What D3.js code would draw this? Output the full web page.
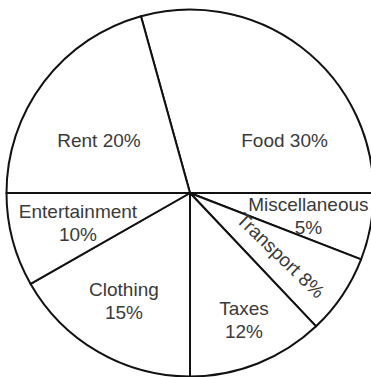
<!DOCTYPE html>
<html>
<head>
<meta charset="utf-8">
<script src="https://cdn.jsdelivr.net/npm/d3@7"></script>
<style>
body { margin: 0; background: #fff; }
</style>
</head>
<body>
<script>
const categories = ["Food", "Miscellaneous", "Transport", "Taxes", "Clothing", "Entertainment", "Rent"]
const percents = [30, 5, 8, 12, 15, 10, 20]
// slice sizes as they are actually drawn in the picture (degrees) -- not exactly the labelled %
const drawnDegrees = [105.5, 21.2, 25.4, 43.4, 60.3, 29.7, 74.5]

const width = 371
const height = 377
const cx = 190, cy = 193, radius = 183.5
const startDeg = -15.5
const lineGap = 23
// label placement: [angle deg, distance from centre, two lines?, rotation deg]
const labelAt = [
  [60.9, 108.2, false, 0],
  [100.8, 120.5, true, 0],
  [124.5, 110, false, 44],
  [156.9, 137.5, true, 0],
  [211.4, 126.8, true, 0],
  [255.3, 115.8, true, 0],
  [-59.9, 105.2, false, 0]
]

const rad = d => d * Math.PI / 180

const data = categories.map((name, i) => ({ name, pct: percents[i], share: drawnDegrees[i], label: labelAt[i] }))

const pie = d3.pie()
  .sort(null)
  .value(d => d.share)
  .startAngle(rad(startDeg))
  .endAngle(rad(startDeg + 360))

const arc = d3.arc().innerRadius(0).outerRadius(radius)

const svg = d3.select("body").append("svg")
  .attr("width", width)
  .attr("height", height)
  .attr("viewBox", [0, 0, width, height])

const g = svg.append("g").attr("transform", `translate(${cx},${cy})`)

g.selectAll("path")
  .data(pie(data))
  .join("path")
    .attr("d", arc)
    .attr("fill", "#fff")
    .attr("stroke", "#111")
    .attr("stroke-width", 2)
    .attr("stroke-linejoin", "round")

const labels = g.append("g")
    .attr("font-family", "'Liberation Sans', Arial, sans-serif")
    .attr("font-size", 19)
    .attr("fill", "#3a3a3a")
    .attr("text-anchor", "middle")
  .selectAll("text")
  .data(data)
  .join("text")
    .attr("transform", d => {
      const [x, y] = d3.pointRadial(rad(d.label[0]), d.label[1])
      return `translate(${x},${y}) rotate(${d.label[3]})`
    })

labels.each(function (d) {
  const lines = d.label[2] ? [d.name, d.pct + "%"] : [d.name + " " + d.pct + "%"]
  d3.select(this).selectAll("tspan")
    .data(lines)
    .join("tspan")
      .attr("x", 0)
      .attr("y", (t, i) => (i - (lines.length - 1) / 2) * lineGap)
      .attr("dy", "0.35em")
      .text(t => t)
})
</script>
</body>
</html>
